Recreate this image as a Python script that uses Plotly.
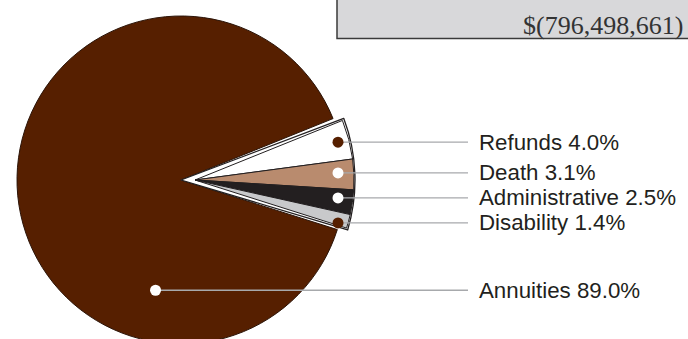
import math
import plotly.graph_objects as go

# Benefit and expense shares (percent of total deductions)
categories = ["Refunds", "Death", "Administrative", "Disability", "Annuities"]
shares = [4.0, 3.1, 2.5, 1.4, 89.0]
net_change = -796498661

# Styling
slice_colors = ["#ffffff", "#b98b6e", "#231f20", "#c8c9cb", "#561f00"]
dot_colors = ["#561f00", "#ffffff", "#ffffff", "#561f00", "#ffffff"]
CLEAR = "rgba(0,0,0,0)"
INK = "#231f20"
LEADER = "#a7a9ac"

# Canvas and pie geometry (pixels)
W, H = 688, 360
CX, CY = 181, 180          # pie centre
R_MAIN = 164               # radius of the annuities disc
PULL_PX = 14               # how far the small-slice group is pulled out
R_GROUP = 159              # radius of the pulled-out slices
R_FRAME = 174              # radius of the frame drawn around the group
FRAME_PAD_DEG = 0.5        # frame sits just outside the group's corners
START_DEG = 22             # first slice starts this many degrees above east
DOT_X = 338                # x of the callout dots on the pulled group
MIN_GAP = 25               # minimum vertical spacing between callouts
LABEL_X = 477
LEADER_END = 468
ANNUITY_ANCHOR = (-103, 0.69)   # callout angle (deg) and radius fraction
LABEL_FONT = dict(family="Liberation Sans", size=22.3, color=INK)


def domain(cx, cy, r):
    return dict(x=[(cx - r) / W, (cx + r) / W],
                y=[1 - (cy + r) / H, 1 - (cy - r) / H])


def px(x, y):
    return x / W, 1 - y / H


n_small = len(shares) - 1
group_total = sum(shares[:n_small])
annuities = shares[-1]
apex_x = CX + PULL_PX

common = dict(direction="clockwise", sort=False, textinfo="none",
              hoverinfo="skip", showlegend=False)


# Frame: wedge from the pie centre that just wraps the pulled group's corners
def corner_angle(deg):
    a = math.radians(deg)
    x = apex_x + R_GROUP * math.cos(a) - CX
    y = R_GROUP * math.sin(a)
    return math.degrees(math.atan2(y, x))


frame_top = corner_angle(START_DEG) + FRAME_PAD_DEG
frame_bottom = corner_angle(START_DEG - group_total * 3.6) - FRAME_PAD_DEG
frame_span = frame_top - frame_bottom

fig = go.Figure()

# Annuities disc with a notch where the small slices sit
fig.add_trace(go.Pie(
    values=shares, labels=categories, domain=domain(CX, CY, R_MAIN),
    rotation=90 - START_DEG,
    marker=dict(colors=[CLEAR] * n_small + [slice_colors[-1]],
                line=dict(color="#2b1408", width=[0] * n_small + [1])),
    **common))

# Thin frame around the pulled-out group
fig.add_trace(go.Pie(
    values=[frame_span, 360 - frame_span], labels=["frame", "rest"],
    domain=domain(CX, CY, R_FRAME), rotation=90 - frame_top,
    marker=dict(colors=["#ffffff", CLEAR], line=dict(color=INK, width=[1.3, 0])),
    **common))

# The pulled-out small slices
fig.add_trace(go.Pie(
    values=shares, labels=categories, domain=domain(apex_x, CY, R_GROUP),
    rotation=90 - START_DEG,
    marker=dict(colors=slice_colors[:n_small] + [CLEAR],
                line=dict(color=INK, width=[1] * n_small + [0])),
    **common))

# Callout anchors: mid-angle of each small slice, seen from the pulled apex
ys = []
cum = 0.0
for v in shares[:n_small]:
    mid = math.radians(START_DEG - (cum + v / 2) * 3.6)
    cum += v
    ys.append(CY - (DOT_X - apex_x) * math.tan(mid))

# Relax crowded callouts apart symmetrically so the labels do not collide
for _ in range(200):
    for i in range(len(ys) - 1):
        gap = ys[i + 1] - ys[i]
        if gap < MIN_GAP:
            d = (MIN_GAP - gap) / 2
            ys[i] -= d
            ys[i + 1] += d

anchors = [(DOT_X, y) for y in ys]
ang, frac = ANNUITY_ANCHOR
anchors.append((CX + frac * R_MAIN * math.cos(math.radians(ang)),
                CY - frac * R_MAIN * math.sin(math.radians(ang))))

shapes = []
annotations = []
for (ax, ay), name, v, dc in zip(anchors, categories, shares, dot_colors):
    x0, y0 = px(ax, ay)
    x1, _ = px(LEADER_END, ay)
    shapes.append(dict(type="line", xref="paper", yref="paper", x0=x0, y0=y0,
                       x1=x1, y1=y0, line=dict(color=LEADER, width=1.3),
                       layer="above"))
    shapes.append(dict(type="circle", xref="paper", yref="paper",
                       xsizemode="pixel", ysizemode="pixel", xanchor=x0, yanchor=y0,
                       x0=-5.5, x1=5.5, y0=-5.5, y1=5.5,
                       fillcolor=dc, line=dict(width=0), layer="above"))
    lx, ly = px(LABEL_X, ay)
    annotations.append(dict(text=f"{name} {v:.1f}%", xref="paper", yref="paper",
                            x=lx, y=ly, xanchor="left", yanchor="middle",
                            showarrow=False, font=LABEL_FONT))

# Total box in the upper right
bx0, by0 = px(337, 38.5)
shapes.append(dict(type="rect", xref="paper", yref="paper", x0=bx0, y0=by0,
                   x1=1.05, y1=1.1, fillcolor="#d8d8da",
                   line=dict(color="#3a3a3a", width=1.5), layer="below"))
tx, ty = px(685, 42)
annotations.append(dict(text=f"$({abs(net_change):,})", xref="paper", yref="paper",
                        x=tx, y=ty, xanchor="right", yanchor="bottom", showarrow=False,
                        font=dict(family="Liberation Serif", size=26, color="#333333")))

fig.update_layout(
    width=W, height=H, margin=dict(l=0, r=0, t=0, b=0),
    paper_bgcolor="#ffffff", plot_bgcolor="#ffffff",
    shapes=shapes, annotations=annotations,
)

fig.write_html("out.html", config={"displayModeBar": False},
               post_script="document.documentElement.style.overflow='hidden';"
                           "document.body.style.overflow='hidden';")
